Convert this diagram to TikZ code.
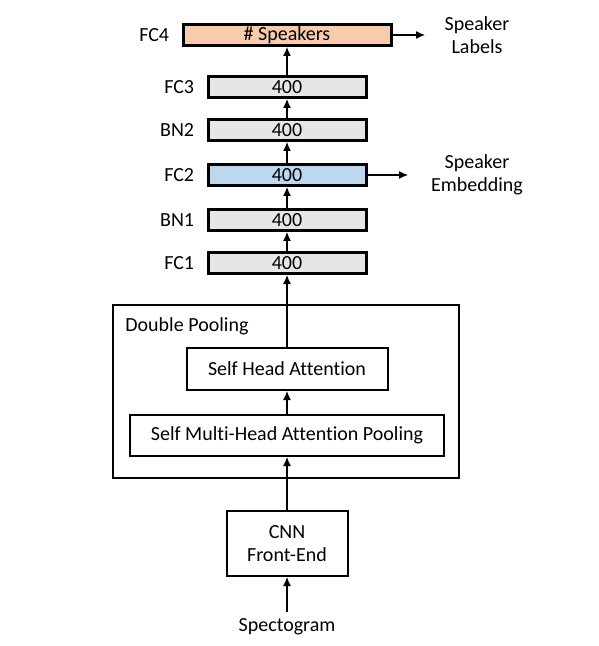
\documentclass[tikz,border=0pt]{standalone}
\usepackage{fontspec}
\setmainfont[Ligatures=NoCommon]{Carlito}
\usepackage{xcolor}
\usepackage{tikz}
\usetikzlibrary{positioning,%
  arrows.meta%
}

\definecolor{layergray}{HTML}{E7E6E6}
\definecolor{speakerorange}{HTML}{F8CBAD}
\definecolor{embedblue}{HTML}{BDD7EE}

\begin{document}
\begin{tikzpicture}
                    [x=0.5pt, y=-0.5pt,
                    fc/.style={rectangle,
                        minimum width=79pt, minimum height=10.5pt,
                        inner sep=0pt,
                        fill=layergray, draw=black, line width=1.5pt},
                    pl/.style={rectangle,
                        inner sep=0pt,
                        draw=black, line width=1pt},
                    tag/.style={inner sep=0pt},
                    two/.style={align=center,
                        font=\fontsize{10}{11.5}\selectfont},
                    flow/.style={line width=0.6pt,
                        -{Latex[length=4.5pt,width=4pt]}}]

                    \useasboundingbox (0,0) rectangle (598,646);

                    % layers
                    \node[fc, minimum width=104pt, fill=speakerorange] at (287,35)
                        (fcfour) {\# Speakers};
                    \node[fc] at (287,87)
                        (fcthree) {400};
                    \node[fc] at (287,130)
                        (bntwo) {400};
                    \node[fc, fill=embedblue] at (287,175)
                        (fctwo) {400};
                    \node[fc] at (287,220)
                        (bnone) {400};
                    \node[fc] at (287,263)
                        (fcone) {400};

                    \node[tag, left=6pt of fcfour] (tagfcfour) {FC4};
                    \node[tag, left=6pt of fcthree] (tagfcthree) {FC3};
                    \node[tag, left=6pt of bntwo] (tagbntwo) {BN2};
                    \node[tag, left=6pt of fctwo] (tagfctwo) {FC2};
                    \node[tag, left=6pt of bnone] (tagbnone) {BN1};
                    \node[tag, left=6pt of fcone] (tagfcone) {FC1};

                    % outputs
                    \node[two] at (477,35)
                        (labels) {Speaker\\Labels};
                    \node[two] at (477,175)
                        (embed) {Speaker\\Embedding};
                    \coordinate (labelsin) at (425,35);
                    \coordinate (embedin) at (408,175);

                    % pooling
                    \node[pl, minimum width=173pt, minimum height=86.5pt] at (286,391.5)
                        (dp) {};
                    \node[anchor=base west, inner sep=0pt] at (125,331)
                        (dptitle) {Double Pooling};
                    \node[pl, minimum width=100.5pt, minimum height=21pt] at (287,369)
                        (sha) {Self Head Attention};
                    \node[pl, minimum width=157pt, minimum height=20.5pt] at (287,435.5)
                        (smhap) {Self Multi-Head Attention Pooling};
                    \node[pl, two, minimum width=60.5pt, minimum height=32.5pt] at (287,543.5)
                        (cnn) {CNN\\Front-End};
                    \node at (287,627)
                        (spec) {Spectogram};

                    \draw[flow] (spec) -- (cnn);
                    \draw[flow] (cnn) -- (smhap);
                    \draw[flow] (smhap) -- (sha);
                    \draw[flow] (sha) -- (fcone);
                    \draw[flow] (fcone) -- (bnone);
                    \draw[flow] (bnone) -- (fctwo);
                    \draw[flow] (fctwo) -- (bntwo);
                    \draw[flow] (bntwo) -- (fcthree);
                    \draw[flow] (fcthree) -- (fcfour);
                    \draw[flow] (fcfour) -- (labelsin);
                    \draw[flow] (fctwo) -- (embedin);
                \end{tikzpicture}
\end{document}
